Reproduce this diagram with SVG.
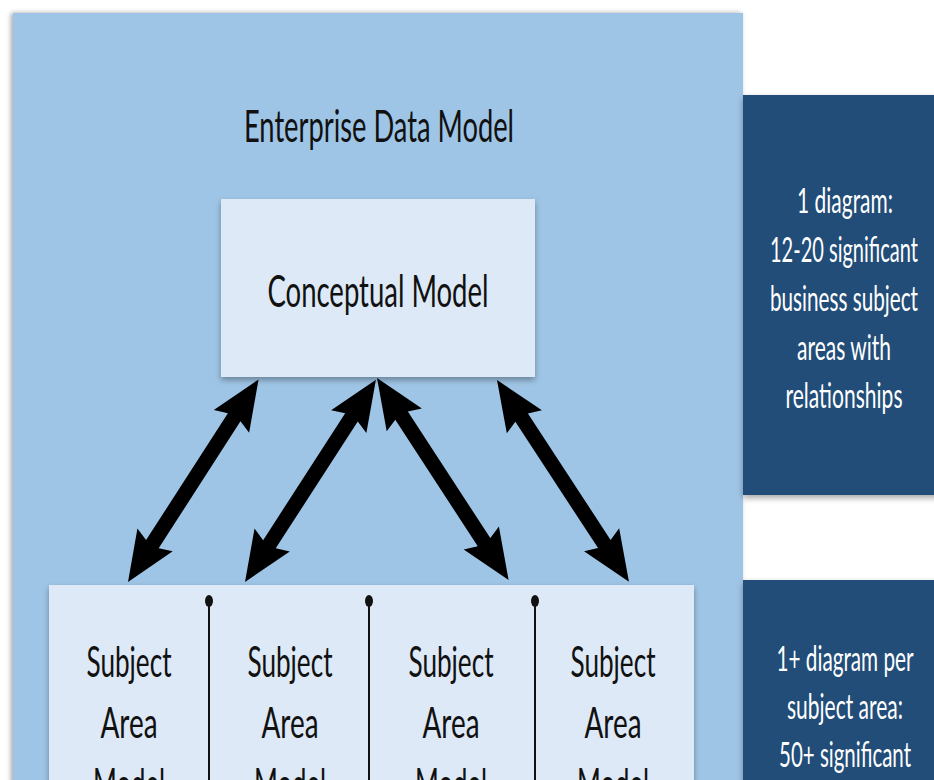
<svg xmlns="http://www.w3.org/2000/svg" xmlns:xlink="http://www.w3.org/1999/xlink" width="934" height="780" viewBox="0 0 934 780">
<style>
.t{font-family:Lato,"Open Sans","Liberation Sans",sans-serif;text-anchor:middle;fill:#111;}
.w{font-family:Lato,"Open Sans","Liberation Sans",sans-serif;text-anchor:middle;fill:#ffffff;font-size:34px;}
.light{fill:#dde9f6;}
.dark{fill:#214e78;}
.div{stroke:#111;stroke-width:2;}
</style>
<defs>
<filter id="sh" x="-10%" y="-10%" width="120%" height="120%">
<feDropShadow dx="0" dy="3" stdDeviation="3" flood-color="#000" flood-opacity="0.35"/>
</filter>
<filter id="shl" x="-10%" y="-10%" width="120%" height="120%">
<feDropShadow dx="-2" dy="0" stdDeviation="2.5" flood-color="#000" flood-opacity="0.35"/>
</filter>
<polygon id="arr" points="0,0 50,-21 45,-7.5 196,-7.5 191,-21 241,0 191,21 196,7.5 45,7.5 50,21" fill="#000"/>
</defs>
<rect width="934" height="780" fill="#ffffff"/>
<g id="panel">
<rect x="13" y="13" width="730" height="780" fill="#9fc5e6" filter="url(#shl)"/>
<text class="t" x="379" y="142" font-size="44" textLength="270" lengthAdjust="spacingAndGlyphs">Enterprise Data Model</text>
</g>
<g id="conceptual">
<rect class="light" x="221" y="199" width="314" height="178" filter="url(#sh)"/>
<text class="t" x="378" y="307" font-size="44" textLength="221" lengthAdjust="spacingAndGlyphs">Conceptual Model</text>
</g>
<g id="subjects">
<rect class="light" x="49" y="585" width="645" height="210" filter="url(#sh)"/>
<g id="sa1">
<text class="t" x="129" y="677" font-size="42" textLength="85" lengthAdjust="spacingAndGlyphs">Subject</text>
<text class="t" x="129" y="738" font-size="42" textLength="57" lengthAdjust="spacingAndGlyphs">Area</text>
<text class="t" x="129" y="799" font-size="42" textLength="72" lengthAdjust="spacingAndGlyphs">Model</text>
</g>
<g id="sa2">
<text class="t" x="290" y="677" font-size="42" textLength="85" lengthAdjust="spacingAndGlyphs">Subject</text>
<text class="t" x="290" y="738" font-size="42" textLength="57" lengthAdjust="spacingAndGlyphs">Area</text>
<text class="t" x="290" y="799" font-size="42" textLength="72" lengthAdjust="spacingAndGlyphs">Model</text>
</g>
<g id="sa3">
<text class="t" x="451" y="677" font-size="42" textLength="85" lengthAdjust="spacingAndGlyphs">Subject</text>
<text class="t" x="451" y="738" font-size="42" textLength="57" lengthAdjust="spacingAndGlyphs">Area</text>
<text class="t" x="451" y="799" font-size="42" textLength="72" lengthAdjust="spacingAndGlyphs">Model</text>
</g>
<g id="sa4">
<text class="t" x="613" y="677" font-size="42" textLength="85" lengthAdjust="spacingAndGlyphs">Subject</text>
<text class="t" x="613" y="738" font-size="42" textLength="57" lengthAdjust="spacingAndGlyphs">Area</text>
<text class="t" x="613" y="799" font-size="42" textLength="72" lengthAdjust="spacingAndGlyphs">Model</text>
</g>
<g id="dividers">
<line class="div" x1="209" y1="601" x2="209" y2="780"/>
<ellipse cx="209" cy="601" rx="4" ry="6" fill="#111"/>
<line class="div" x1="369" y1="601" x2="369" y2="780"/>
<ellipse cx="369" cy="601" rx="4" ry="6" fill="#111"/>
<line class="div" x1="535" y1="601" x2="535" y2="780"/>
<ellipse cx="535" cy="601" rx="4" ry="6" fill="#111"/>
</g>
</g>
<g id="connectors">
<use xlink:href="#arr" transform="translate(128,582) rotate(-57.2)"/>
<use xlink:href="#arr" transform="translate(245,582) rotate(-57.1)"/>
<use xlink:href="#arr" transform="translate(377,378) rotate(56.9)"/>
<use xlink:href="#arr" transform="translate(497,380) rotate(56.8)"/>
</g>
<g id="note1">
<rect class="dark" x="743" y="95" width="200" height="400" filter="url(#sh)"/>
<text class="w" x="845" y="213" textLength="96" lengthAdjust="spacingAndGlyphs">1 diagram:</text>
<text class="w" x="844" y="262" textLength="148" lengthAdjust="spacingAndGlyphs">12-20 significant</text>
<text class="w" x="844" y="311" textLength="148" lengthAdjust="spacingAndGlyphs">business subject</text>
<text class="w" x="844" y="360" textLength="94" lengthAdjust="spacingAndGlyphs">areas with</text>
<text class="w" x="844" y="408" textLength="117" lengthAdjust="spacingAndGlyphs">relationships</text>
</g>
<g id="note2">
<rect class="dark" x="743" y="580" width="200" height="220" filter="url(#sh)"/>
<text class="w" x="845" y="671" textLength="137" lengthAdjust="spacingAndGlyphs">1+ diagram per</text>
<text class="w" x="845" y="719" textLength="116" lengthAdjust="spacingAndGlyphs">subject area:</text>
<text class="w" x="845" y="767" textLength="132" lengthAdjust="spacingAndGlyphs">50+ significant</text>
</g>
</svg>
